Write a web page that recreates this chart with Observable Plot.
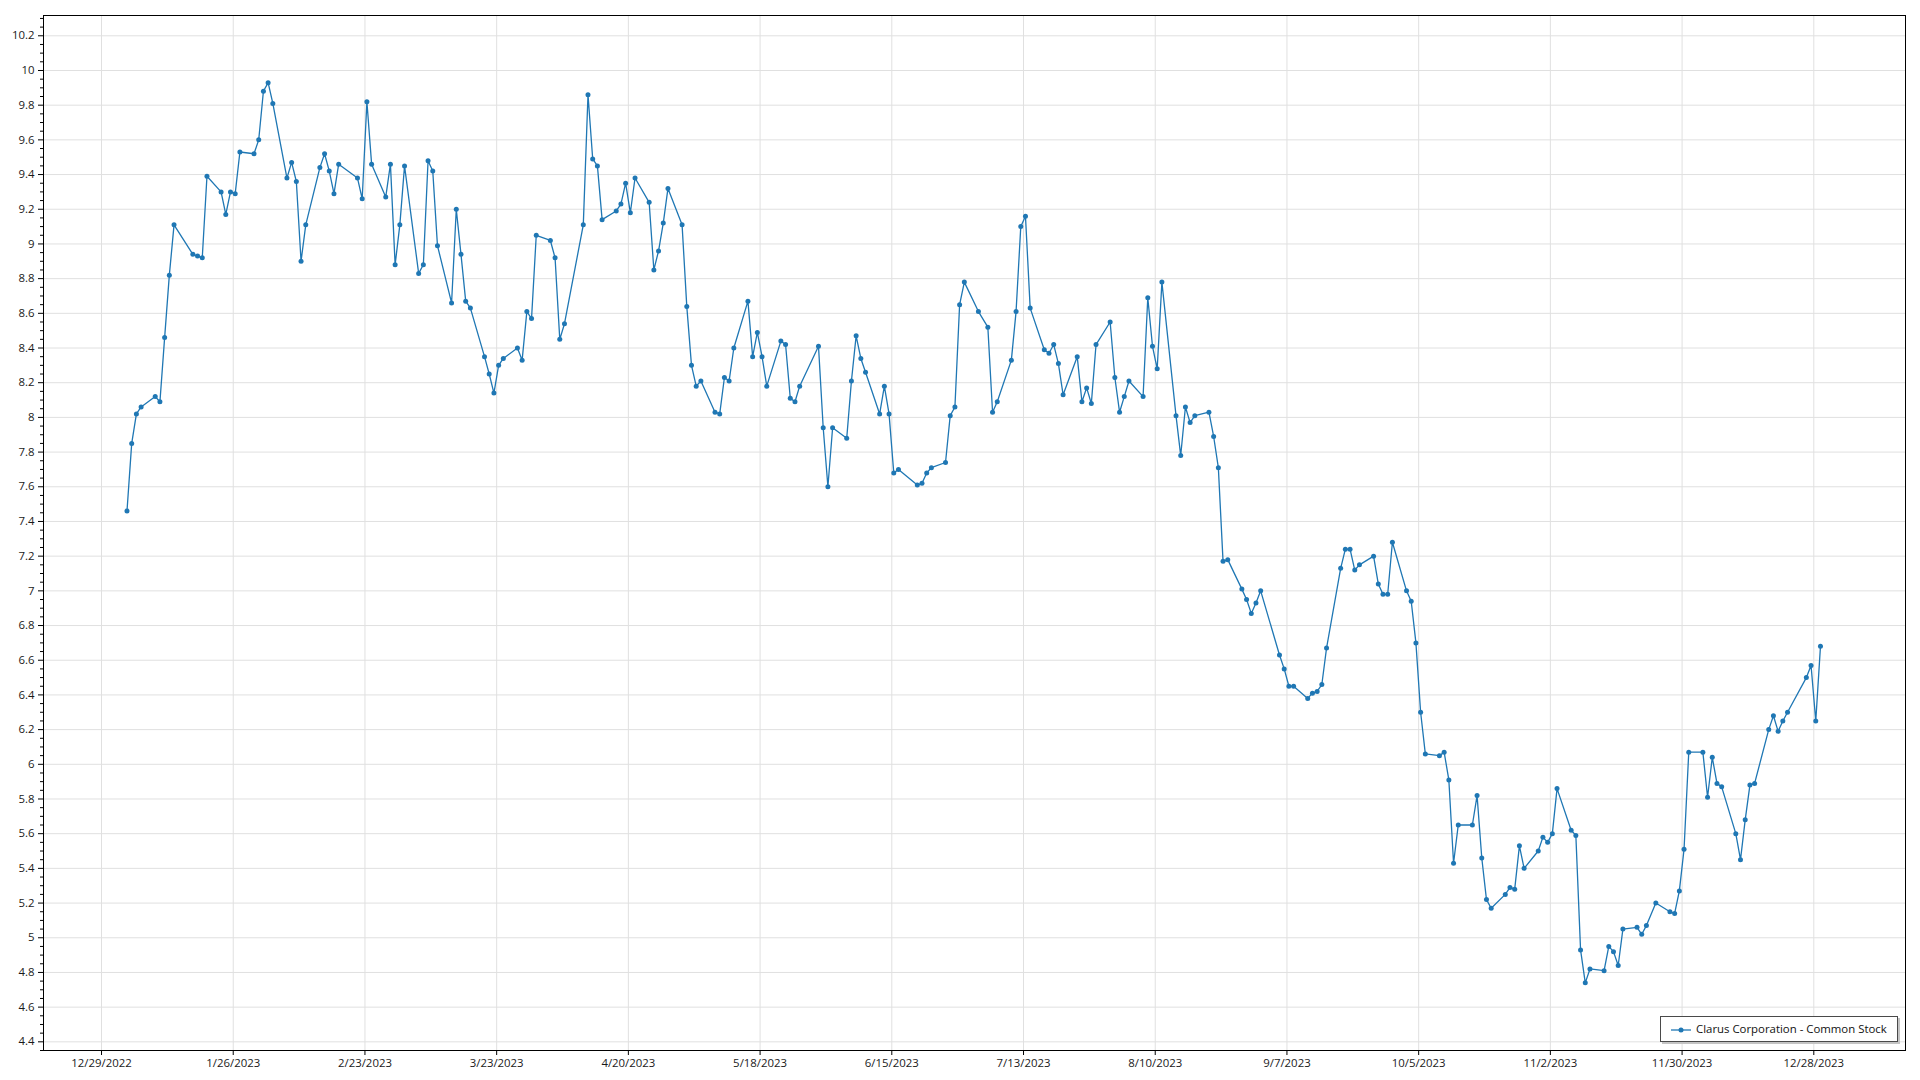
<!DOCTYPE html>
<html>
<head>
<meta charset="utf-8">
<script src="https://cdn.jsdelivr.net/npm/d3@7"></script>
<script src="https://cdn.jsdelivr.net/npm/@observablehq/plot@0.6"></script>
<style>
  html, body { margin: 0; padding: 0; background: #fff; }
  #wrap { position: relative; width: 1920px; height: 1080px; font-family: "Segoe UI", "Open Sans", sans-serif; }
  #legend {
    position: absolute; left: 1660px; top: 1016px; width: 236px; height: 24px;
    border: 1px solid #4a4a4a; background: #fff; box-shadow: 2px 2px 0 #c4c4c4;
    font-size: 11.4px; color: #111;
  }
  #legend svg { position: absolute; left: 9px; top: 8px; }
  #legend span { position: absolute; left: 35px; top: 4px; white-space: nowrap; }
</style>
</head>
<body>
<div id="wrap">
  <div id="chart"></div>
  <div id="legend"><svg width="22" height="10"><line x1="1" y1="5" x2="21" y2="5" stroke="#1f77b4" stroke-width="1.3"></line><circle cx="11" cy="5" r="2.5" fill="#1f77b4"></circle></svg><span id="legendText"></span></div>
</div>
<script>
// ---- data ----
const seriesName = "Clarus Corporation - Common Stock";

const dates = [
  "2023-01-03","2023-01-04","2023-01-05","2023-01-06","2023-01-09","2023-01-10","2023-01-11","2023-01-12","2023-01-13",
  "2023-01-17","2023-01-18","2023-01-19","2023-01-20","2023-01-23","2023-01-24","2023-01-25","2023-01-26","2023-01-27",
  "2023-01-30","2023-01-31","2023-02-01","2023-02-02","2023-02-03","2023-02-06","2023-02-07","2023-02-08","2023-02-09",
  "2023-02-10","2023-02-13","2023-02-14","2023-02-15","2023-02-16","2023-02-17","2023-02-21","2023-02-22","2023-02-23",
  "2023-02-24","2023-02-27","2023-02-28","2023-03-01","2023-03-02","2023-03-03","2023-03-06","2023-03-07","2023-03-08",
  "2023-03-09","2023-03-10","2023-03-13","2023-03-14","2023-03-15","2023-03-16","2023-03-17","2023-03-20","2023-03-21",
  "2023-03-22","2023-03-23","2023-03-24","2023-03-27","2023-03-28","2023-03-29","2023-03-30","2023-03-31","2023-04-03",
  "2023-04-04","2023-04-05","2023-04-06","2023-04-10","2023-04-11","2023-04-12","2023-04-13","2023-04-14","2023-04-17",
  "2023-04-18","2023-04-19","2023-04-20","2023-04-21","2023-04-24","2023-04-25","2023-04-26","2023-04-27","2023-04-28",
  "2023-05-01","2023-05-02","2023-05-03","2023-05-04","2023-05-05","2023-05-08","2023-05-09","2023-05-10","2023-05-11",
  "2023-05-12","2023-05-15","2023-05-16","2023-05-17","2023-05-18","2023-05-19","2023-05-22","2023-05-23","2023-05-24",
  "2023-05-25","2023-05-26","2023-05-30","2023-05-31","2023-06-01","2023-06-02","2023-06-05","2023-06-06","2023-06-07",
  "2023-06-08","2023-06-09","2023-06-12","2023-06-13","2023-06-14","2023-06-15","2023-06-16","2023-06-20","2023-06-21",
  "2023-06-22","2023-06-23","2023-06-26","2023-06-27","2023-06-28","2023-06-29","2023-06-30","2023-07-03","2023-07-05",
  "2023-07-06","2023-07-07","2023-07-10","2023-07-11","2023-07-12","2023-07-13","2023-07-14","2023-07-17","2023-07-18",
  "2023-07-19","2023-07-20","2023-07-21","2023-07-24","2023-07-25","2023-07-26","2023-07-27","2023-07-28","2023-07-31",
  "2023-08-01","2023-08-02","2023-08-03","2023-08-04","2023-08-07","2023-08-08","2023-08-09","2023-08-10","2023-08-11",
  "2023-08-14","2023-08-15","2023-08-16","2023-08-17","2023-08-18","2023-08-21","2023-08-22","2023-08-23","2023-08-24",
  "2023-08-25","2023-08-28","2023-08-29","2023-08-30","2023-08-31","2023-09-01","2023-09-05","2023-09-06","2023-09-07",
  "2023-09-08","2023-09-11","2023-09-12","2023-09-13","2023-09-14","2023-09-15","2023-09-18","2023-09-19","2023-09-20",
  "2023-09-21","2023-09-22","2023-09-25","2023-09-26","2023-09-27","2023-09-28","2023-09-29","2023-10-02","2023-10-03",
  "2023-10-04","2023-10-05","2023-10-06","2023-10-09","2023-10-10","2023-10-11","2023-10-12","2023-10-13","2023-10-16",
  "2023-10-17","2023-10-18","2023-10-19","2023-10-20","2023-10-23","2023-10-24","2023-10-25","2023-10-26","2023-10-27",
  "2023-10-30","2023-10-31","2023-11-01","2023-11-02","2023-11-03","2023-11-06","2023-11-07","2023-11-08","2023-11-09",
  "2023-11-10","2023-11-13","2023-11-14","2023-11-15","2023-11-16","2023-11-17","2023-11-20","2023-11-21","2023-11-22",
  "2023-11-24","2023-11-27","2023-11-28","2023-11-29","2023-11-30","2023-12-01","2023-12-04","2023-12-05","2023-12-06",
  "2023-12-07","2023-12-08","2023-12-11","2023-12-12","2023-12-13","2023-12-14","2023-12-15","2023-12-18","2023-12-19",
  "2023-12-20","2023-12-21","2023-12-22","2023-12-26","2023-12-27","2023-12-28","2023-12-29"
];

const prices = [
  7.46,7.85,8.02,8.06,8.12,8.09,8.46,8.82,9.11,
  8.94,8.93,8.92,9.39,9.30,9.17,9.30,9.29,9.53,
  9.52,9.60,9.88,9.93,9.81,9.38,9.47,9.36,8.90,
  9.11,9.44,9.52,9.42,9.29,9.46,9.38,9.26,9.82,
  9.46,9.27,9.46,8.88,9.11,9.45,8.83,8.88,9.48,
  9.42,8.99,8.66,9.20,8.94,8.67,8.63,8.35,8.25,
  8.14,8.30,8.34,8.40,8.33,8.61,8.57,9.05,9.02,
  8.92,8.45,8.54,9.11,9.86,9.49,9.45,9.14,9.19,
  9.23,9.35,9.18,9.38,9.24,8.85,8.96,9.12,9.32,
  9.11,8.64,8.30,8.18,8.21,8.03,8.02,8.23,8.21,
  8.40,8.67,8.35,8.49,8.35,8.18,8.44,8.42,8.11,
  8.09,8.18,8.41,7.94,7.60,7.94,7.88,8.21,8.47,
  8.34,8.26,8.02,8.18,8.02,7.68,7.70,7.61,7.62,
  7.68,7.71,7.74,8.01,8.06,8.65,8.78,8.61,8.52,
  8.03,8.09,8.33,8.61,9.10,9.16,8.63,8.39,8.37,
  8.42,8.31,8.13,8.35,8.09,8.17,8.08,8.42,8.55,
  8.23,8.03,8.12,8.21,8.12,8.69,8.41,8.28,8.78,
  8.01,7.78,8.06,7.97,8.01,8.03,7.89,7.71,7.17,
  7.18,7.01,6.95,6.87,6.93,7.00,6.63,6.55,6.45,
  6.45,6.38,6.41,6.42,6.46,6.67,7.13,7.24,7.24,
  7.12,7.15,7.20,7.04,6.98,6.98,7.28,7.00,6.94,
  6.70,6.30,6.06,6.05,6.07,5.91,5.43,5.65,5.65,
  5.82,5.46,5.22,5.17,5.25,5.29,5.28,5.53,5.40,
  5.50,5.58,5.55,5.60,5.86,5.62,5.59,4.93,4.74,
  4.82,4.81,4.95,4.92,4.84,5.05,5.06,5.02,5.07,
  5.20,5.15,5.14,5.27,5.51,6.07,6.07,5.81,6.04,
  5.89,5.87,5.60,5.45,5.68,5.88,5.89,6.20,6.28,
  6.19,6.25,6.30,6.50,6.57,6.25,6.68
];

const xTickDates = [
  "2022-12-29","2023-01-26","2023-02-23","2023-03-23","2023-04-20","2023-05-18","2023-06-15",
  "2023-07-13","2023-08-10","2023-09-07","2023-10-05","2023-11-02","2023-11-30","2023-12-28"
];
const yTicks = [4.4,4.6,4.8,5,5.2,5.4,5.6,5.8,6,6.2,6.4,6.6,6.8,7,7.2,7.4,7.6,7.8,8,8.2,8.4,8.6,8.8,9,9.2,9.4,9.6,9.8,10,10.2];

// ---- build ----
const color = "#1f77b4";
// the source plots each close at its session timestamp (about 10:00 UTC), slightly right of the date gridline
const data = dates.map((d, i) => ({date: new Date(d + "T10:00:00Z"), price: prices[i]}));
const xTicks = xTickDates.map(d => new Date(d + "T00:00:00Z"));
const yMinor = d3.range(4.35, 10.32, 0.05).map(v => +v.toFixed(2)).filter(v => !yTicks.some(t => Math.abs(t - v) < 1e-6));
const fmtDate = d => `${d.getUTCMonth() + 1}/${d.getUTCDate()}/${d.getUTCFullYear()}`;
const fmtNum = d => String(+d.toFixed(1));

document.getElementById("legendText").textContent = seriesName;

const chart = Plot.plot({
  width: 1920,
  height: 1080,
  marginLeft: 43,
  marginRight: 15,
  marginTop: 15,
  marginBottom: 30,
  style: {fontFamily: '"Segoe UI", "Open Sans", sans-serif', fontSize: "11.4px", color: "#1a1a1a", background: "#fff", overflow: "visible"},
  x: {type: "utc", domain: [new Date("2022-12-16T16:00:00Z"), new Date("2024-01-16T11:50:00Z")]},
  y: {domain: [4.35, 10.317]},
  marks: [
    Plot.gridX(xTicks, {stroke: "#e0e0e0", strokeOpacity: 1}),
    Plot.gridY(yTicks, {stroke: "#e0e0e0", strokeOpacity: 1}),
    Plot.axisX(xTicks, {tickSize: 5, tickPadding: 3, tickFormat: fmtDate, label: null, stroke: "#000"}),
    Plot.axisY(yTicks, {tickSize: 5, tickPadding: 4, tickFormat: fmtNum, label: null, stroke: "#000"}),
    Plot.axisY(yMinor, {tickSize: 3, tickFormat: () => "", label: null, stroke: "#000"}),
    Plot.frame({stroke: "#000", strokeWidth: 1}),
    Plot.line(data, {x: "date", y: "price", stroke: color, strokeWidth: 1.3}),
    Plot.dot(data, {x: "date", y: "price", r: 2.5, fill: color, stroke: "none"})
  ]
});
document.getElementById("chart").appendChild(chart);
</script>
</body>
</html>
